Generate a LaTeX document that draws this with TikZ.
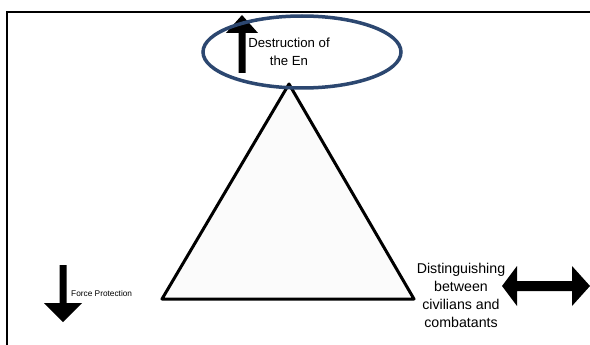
\documentclass[tikz,border=0pt]{standalone}
\usepackage{fontspec}
\setmainfont{Liberation Sans}
\definecolor{ringblue}{HTML}{2C4770}
\begin{document}
\begin{tikzpicture}[x=1pt,y=-1pt,
  frame/.style={line width=2pt,black},
  tri/.style={line width=3pt,black,line join=round,fill=gray!3},
  ring/.style={line width=3.5pt,draw=ringblue},
  blockarrow/.style={fill=black},
  label/.style={align=center,inner sep=0pt}]
\useasboundingbox (0,0) rectangle (590,345);
\fill[white] (0,0) rectangle (590,345);
% frame lines
\draw[frame] (7,345) -- (7,12) -- (590,12);
% triangle
\coordinate (apex) at (289,84);
\coordinate (bl) at (162,299);
\coordinate (br) at (414,299);
\draw[tri] (apex) -- (bl) -- (br) -- cycle;
% up arrow
\fill[blockarrow] (238.5,73) -- (238.5,33) -- (226,33) -- (242,15) -- (258,33) -- (245.5,33) -- (245.5,73) -- cycle;
% ellipse around the top label
\draw[ring] (302,52) ellipse [x radius=99, y radius=36];
\node[label,font=\fontsize{13.2}{17.5}\selectfont] (top) at (289,52) {Destruction of\\the En};
% down arrow
\fill[blockarrow] (59.5,265) -- (59.5,303) -- (44,303) -- (63,322) -- (82,303) -- (66.5,303) -- (66.5,265) -- cycle;
\node[label,anchor=west,font=\fontsize{8.3}{10}\selectfont] (fp) at (71,294) {Force Protection};
% right label and double arrow
\node[label,font=\fontsize{14.2}{18}\selectfont] (dist) at (461,295) {Distinguishing\\between\\civilians and\\combatants};
\fill[blockarrow] (502,286) -- (517,266) -- (517,281) -- (572,281) -- (572,266) -- (590,286) -- (572,306) -- (572,291) -- (517,291) -- (517,306) -- cycle;
\end{tikzpicture}
\end{document}
